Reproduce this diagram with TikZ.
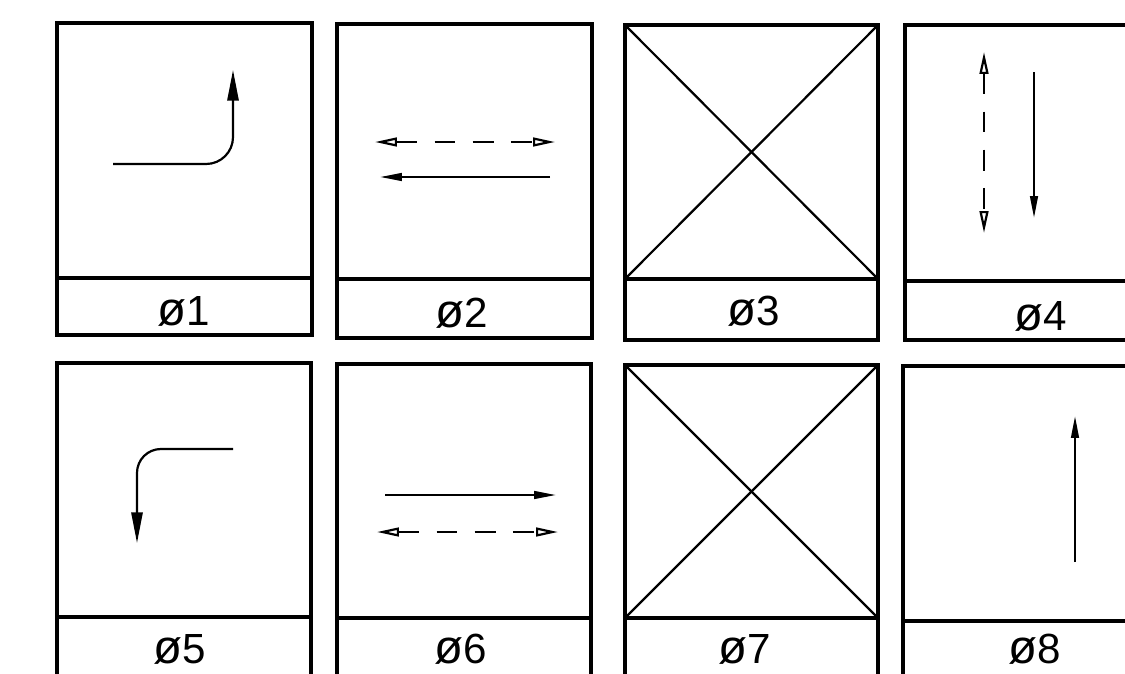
\documentclass[tikz,border=0pt]{standalone}
\usepackage{fontspec}
\setmainfont{Liberation Sans}
\usetikzlibrary{arrows.meta}
\newcommand\mypanel[5]{%
  \draw[frame] (#1,#2) rectangle (#3,#5);
  \draw[frame] (#1,#4) -- (#3,#4);}
\newcommand\slz{{\fontsize{27}{28}\selectfont ø}}
\begin{document}
\begin{tikzpicture}[x=0.02cm,y=-0.02cm,
  frame/.style={line width=2.6pt, line join=miter},
  thinl/.style={line width=1.25pt},
  lbl/.style={anchor=base, inner sep=0pt, font=\fontsize{24}{28}\selectfont},
  dsh/.style={thinl, dash pattern=on 11.9pt off 9.8pt},
  bigtip/.style={-{Triangle[length=17.5pt, width=6.4pt]}},
  smalltip/.style={-{Triangle[length=12.5pt, width=4.4pt]}},
  opentips/.style={{Triangle[open, length=12.5pt, width=5pt]}-{Triangle[open, length=12.5pt, width=5pt]}}]
\useasboundingbox (0,0) rectangle (1125,673);
\clip (0,0) rectangle (1125,673);
\fill[white] (0,0) rectangle (1125,673);
% row 1
\mypanel{57}{23}{312}{278}{335}
\mypanel{337}{24}{592}{279}{338}
\mypanel{625}{25}{878}{279}{340}
\mypanel{905}{25}{1160}{281}{340}
% row 2
\mypanel{57}{363}{311}{617}{700}
\mypanel{337}{364}{591}{618}{700}
\mypanel{625}{365}{878}{618}{700}
\mypanel{903}{366}{1160}{621}{700}
% labels
\node[lbl] (l1) at (184,325) {\slz1};
\node[lbl] (l2) at (462,327) {\slz2};
\node[lbl] (l3) at (754,325) {\slz3};
\node[lbl] (l4) at (1041,330) {\slz4};
\node[lbl] (l5) at (180,663) {\slz5};
\node[lbl] (l6) at (461,663) {\slz6};
\node[lbl] (l7) at (745,663) {\slz7};
\node[lbl] (l8) at (1035,663) {\slz8};
% panel 1
\coordinate (a1s) at (113,164); \coordinate (a1c) at (233,164); \coordinate (a1e) at (233,70);
\draw[thinl, bigtip, rounded corners=15.3pt] (a1s) -- (a1c) -- (a1e);
% panel 2
\coordinate (d2a) at (375,142); \coordinate (d2b) at (555,142);
\draw[dsh, opentips] (d2a) -- (d2b);
\coordinate (s2a) at (550,177); \coordinate (s2b) at (380,177);
\draw[thinl, smalltip] (s2a) -- (s2b);
% panel 3
\draw[thinl] (625,25) -- (878,279);
\draw[thinl] (625,279) -- (878,25);
% panel 4
\coordinate (d4a) at (984,52); \coordinate (d4b) at (984,233);
\draw[dsh, opentips] (d4a) -- (d4b);
\coordinate (s4a) at (1034,72); \coordinate (s4b) at (1034,218);
\draw[thinl, smalltip] (s4a) -- (s4b);
% panel 5
\coordinate (a5s) at (233,449); \coordinate (a5c) at (137,449); \coordinate (a5e) at (137,543);
\draw[thinl, bigtip, rounded corners=13.6pt] (a5s) -- (a5c) -- (a5e);
% panel 6
\coordinate (s6a) at (385,495); \coordinate (s6b) at (556,495);
\draw[thinl, smalltip] (s6a) -- (s6b);
\coordinate (d6a) at (377,532); \coordinate (d6b) at (558,532);
\draw[dsh, opentips] (d6a) -- (d6b);
% panel 7
\draw[thinl] (625,365) -- (878,618);
\draw[thinl] (625,618) -- (878,365);
% panel 8
\coordinate (s8a) at (1075,562); \coordinate (s8b) at (1075,416);
\draw[thinl, smalltip] (s8a) -- (s8b);
\end{tikzpicture}
\end{document}
